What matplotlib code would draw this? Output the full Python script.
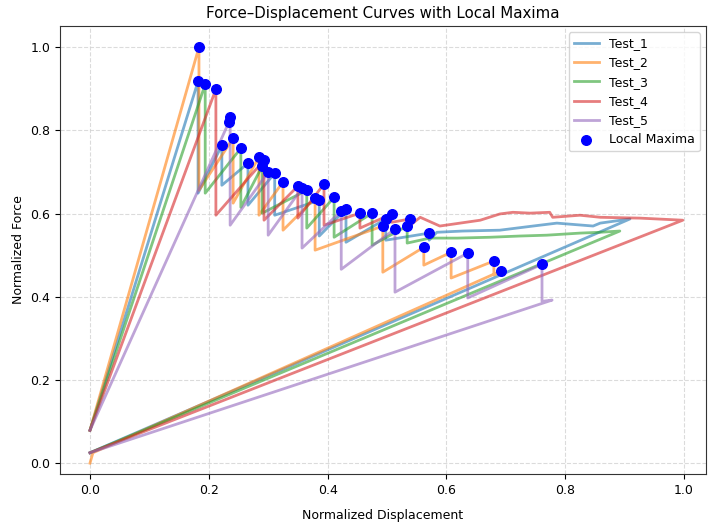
import matplotlib.pyplot as plt
import numpy as np

# each test: straight loading from START, then peaks with a sudden drop after
# each one, an optional plateau trace, and the unloading line back to RETURN
START = (0.0, 0.079)
RETURN = (0.0, 0.025)

TESTS = ["Test_1", "Test_2", "Test_3", "Test_4", "Test_5"]
COLORS = ["tab:blue", "tab:orange", "tab:green", "tab:red", "tab:purple"]

t1_peak_x = [0.182, 0.222, 0.266, 0.311, 0.386, 0.431, 0.498, 0.571]
t1_peak_y = [0.918, 0.764, 0.721, 0.697, 0.632, 0.611, 0.587, 0.553]
t1_drop_y = [0.649, 0.668, 0.620, 0.596, 0.546, 0.531, 0.536, 0.536]
t1_plat_x = [0.584, 0.628, 0.690, 0.746, 0.786, 0.847, 0.859, 0.909]
t1_plat_y = [0.555, 0.558, 0.560, 0.570, 0.577, 0.570, 0.577, 0.587]

t2_peak_x = [0.1835, 0.241, 0.2845, 0.325, 0.379, 0.493, 0.562, 0.608, 0.680, 0.692]
t2_peak_y = [1.000, 0.781, 0.736, 0.676, 0.637, 0.570, 0.519, 0.507, 0.486, 0.462]
t2_drop_y = [0.656, 0.625, 0.596, 0.560, 0.512, 0.459, 0.476, 0.445, 0.452]
t2_plat_x = []
t2_plat_y = []

t3_peak_x = [0.194, 0.254, 0.290, 0.365, 0.411, 0.475, 0.534]
t3_peak_y = [0.911, 0.757, 0.714, 0.656, 0.639, 0.601, 0.570]
t3_drop_y = [0.649, 0.615, 0.601, 0.565, 0.543, 0.524, 0.529]
t3_plat_x = [0.572, 0.618, 0.673, 0.724, 0.769, 0.825, 0.859, 0.892]
t3_plat_y = [0.541, 0.541, 0.543, 0.546, 0.548, 0.553, 0.555, 0.558]

t4_peak_x = [0.212, 0.293, 0.350, 0.394, 0.4545, 0.508, 0.539]
t4_peak_y = [0.899, 0.728, 0.666, 0.671, 0.601, 0.599, 0.587]
t4_drop_y = [0.596, 0.584, 0.589, 0.572, 0.565, 0.579, 0.572]
t4_plat_x = [0.556, 0.589, 0.623, 0.657, 0.690, 0.712, 0.741, 0.774, 0.779,
             0.825, 0.859, 0.926, 0.998]
t4_plat_y = [0.591, 0.570, 0.577, 0.584, 0.599, 0.603, 0.601, 0.603, 0.591,
             0.596, 0.591, 0.589, 0.584]

t5_peak_x = [0.234, 0.236, 0.300, 0.357, 0.423, 0.5135, 0.636, 0.761]
t5_peak_y = [0.820, 0.832, 0.700, 0.661, 0.606, 0.563, 0.505, 0.478]
t5_drop_y = [0.815, 0.572, 0.548, 0.517, 0.466, 0.411, 0.397, 0.389]
t5_plat_x = [0.778]
t5_plat_y = [0.392]

peak_xs = [t1_peak_x, t2_peak_x, t3_peak_x, t4_peak_x, t5_peak_x]
peak_ys = [t1_peak_y, t2_peak_y, t3_peak_y, t4_peak_y, t5_peak_y]
drop_ys = [t1_drop_y, t2_drop_y, t3_drop_y, t4_drop_y, t5_drop_y]
plat_xs = [t1_plat_x, t2_plat_x, t3_plat_x, t4_plat_x, t5_plat_x]
plat_ys = [t1_plat_y, t2_plat_y, t3_plat_y, t4_plat_y, t5_plat_y]


def build_curve(px, py, dy, qx, qy, test):
    xs, ys = [START[0]], [START[1]]
    for i in range(len(px)):
        xs.append(px[i])
        ys.append(py[i])
        if i < len(dy):
            xs.append(px[i])
            ys.append(dy[i])
    xs += list(qx)
    ys += list(qy)
    if test == "Test_2":
        xs += [0.005, 0.0]
        ys += [RETURN[1], 0.0]
    else:
        xs.append(RETURN[0])
        ys.append(RETURN[1])
    return np.array(xs), np.array(ys)


plt.rcParams["font.size"] = 9

fig = plt.figure(figsize=(7.08, 5.29), dpi=100)
ax = fig.add_axes([0.0847, 0.104, 0.9124, 0.847])

all_px, all_py = [], []
for i, test in enumerate(TESTS):
    x, y = build_curve(peak_xs[i], peak_ys[i], drop_ys[i], plat_xs[i], plat_ys[i], test)
    ax.plot(x, y, color=COLORS[i], lw=2, alpha=0.6, label=test)
    all_px += peak_xs[i]
    all_py += peak_ys[i]

ax.scatter(all_px, all_py, color="blue", s=48, zorder=5, label="Local Maxima")

ax.set_xlim(-0.0505, 1.037)
ax.set_ylim(-0.026, 1.051)
ax.set_xticks([0.0, 0.2, 0.4, 0.6, 0.8, 1.0])
ax.set_yticks([0.0, 0.2, 0.4, 0.6, 0.8, 1.0])
ax.set_xlabel("Normalized Displacement", labelpad=9)
ax.set_ylabel("Normalized Force")
ax.set_title("Force\u2013Displacement Curves with Local Maxima", size=10.8)
ax.grid(ls="--", color="lightgray", alpha=0.8)
for spine in ax.spines.values():
    spine.set_color("#333333")
ax.legend(loc="upper right")

fig.savefig("out.png", dpi=100)
